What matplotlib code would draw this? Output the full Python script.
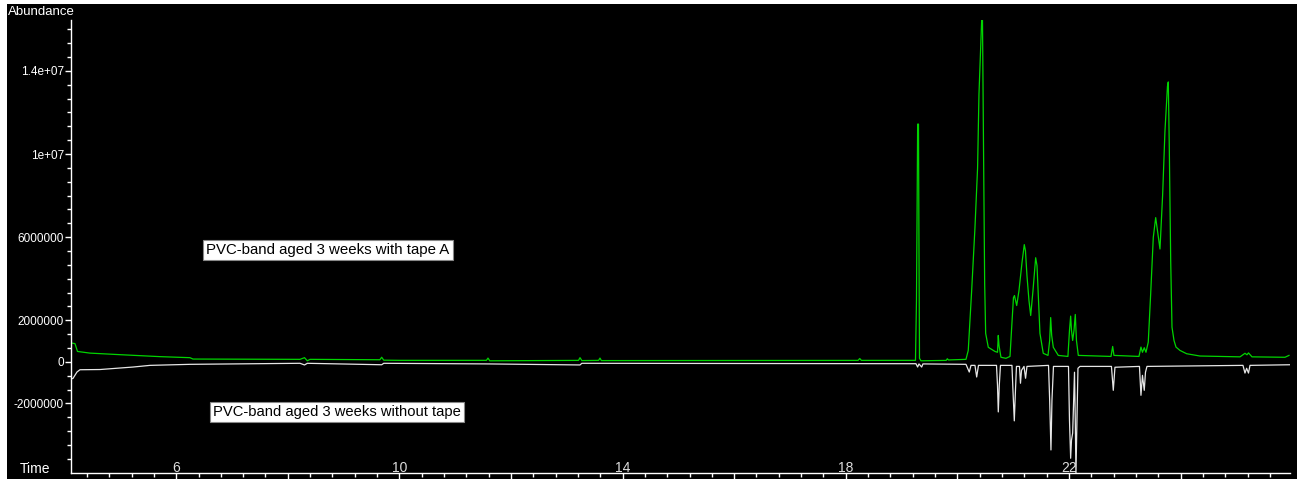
import numpy as np
import matplotlib
matplotlib.use('Agg')
import matplotlib.pyplot as plt
from matplotlib.patches import Rectangle
from matplotlib.ticker import MultipleLocator, FixedLocator, FixedFormatter

plt.rcParams['font.family'] = ['Liberation Sans', 'DejaVu Sans']

# PVC-band aged 3 weeks with tape A (ślad zielony, dodatni)
t_tape = [4.127, 4.186, 4.231, 4.455, 4.993, 5.710, 6.247, 6.301, 8.219, 8.30, 8.35, 8.40,
          9.65, 9.683, 9.72, 10.011, 11.56, 11.588, 11.62, 13.21, 13.237, 13.27, 13.57, 13.595,
          13.62, 18.22, 18.25, 18.28, 19.249, 19.267, 19.276, 19.288, 19.303, 19.312, 19.321,
          19.348, 19.80, 19.82, 19.84, 20.154, 20.195, 20.256, 20.315, 20.362, 20.387, 20.435,
          20.450, 20.468, 20.489, 20.507, 20.554, 20.674, 20.719, 20.733, 20.746, 20.781, 20.870,
          20.943, 20.973, 21.005, 21.023, 21.063, 21.104, 21.158, 21.199, 21.220, 21.247, 21.283,
          21.314, 21.355, 21.403, 21.427, 21.480, 21.539, 21.624, 21.654, 21.672, 21.690, 21.719,
          21.808, 21.981, 22.009, 22.030, 22.045, 22.066, 22.090, 22.113, 22.134, 22.167, 22.753,
          22.783, 22.806, 23.254, 23.290, 23.317, 23.349, 23.380, 23.421, 23.464, 23.511, 23.554,
          23.586, 23.631, 23.679, 23.720, 23.765, 23.780, 23.797, 23.823, 23.846, 23.882, 23.918,
          23.989, 24.109, 24.348, 25.065, 25.154, 25.190, 25.217, 25.280, 25.871, 25.943]
a_tape = [0.90e6, 0.88e6, 0.50e6, 0.42e6, 0.345e6, 0.25e6, 0.20e6, 0.134e6, 0.12e6, 0.20e6, 0.05e6, 0.12e6,
          0.10e6, 0.22e6, 0.08e6, 0.072e6, 0.072e6, 0.18e6, 0.05e6, 0.07e6, 0.20e6, 0.06e6, 0.07e6, 0.18e6,
          0.06e6, 0.07e6, 0.16e6, 0.07e6, 0.072e6, 2.95e6, 6.45e6, 11.44e6, 11.44e6, 5.35e6, 0.17e6,
          0.05e6, 0.07e6, 0.15e6, 0.09e6, 0.12e6, 0.55e6, 3.43e6, 6.45e6, 9.33e6, 12.88e6, 16.43e6,
          16.43e6, 10.48e6, 3.77e6, 1.37e6, 0.70e6, 0.50e6, 0.46e6, 1.27e6, 0.79e6, 0.22e6, 0.17e6,
          0.26e6, 1.65e6, 3.09e6, 3.19e6, 2.71e6, 3.43e6, 4.77e6, 5.64e6, 5.35e6, 4.15e6, 2.95e6,
          2.23e6, 3.43e6, 5.01e6, 4.63e6, 1.37e6, 0.41e6, 0.31e6, 1.03e6, 2.13e6, 1.27e6, 0.70e6,
          0.31e6, 0.26e6, 1.51e6, 2.20e6, 1.51e6, 1.03e6, 1.51e6, 2.28e6, 1.03e6, 0.31e6, 0.26e6,
          0.74e6, 0.31e6, 0.26e6, 0.71e6, 0.46e6, 0.68e6, 0.46e6, 0.95e6, 3.27e6, 5.99e6, 6.94e6,
          6.31e6, 5.43e6, 8.07e6, 11.10e6, 13.26e6, 13.47e6, 10.47e6, 4.87e6, 1.67e6, 1.03e6, 0.71e6,
          0.55e6, 0.39e6, 0.28e6, 0.24e6, 0.41e6, 0.34e6, 0.43e6, 0.24e6, 0.22e6, 0.31e6]

# PVC-band aged 3 weeks without tape (ślad biały, odwrócony)
t_blank = [4.127, 4.150, 4.222, 4.276, 4.634, 5.227, 5.530, 6.247, 8.219, 8.30, 8.35, 9.683, 9.72,
           11.588, 13.237, 13.27, 19.258, 19.288, 19.312, 19.360, 19.383, 20.154, 20.213, 20.244,
           20.315, 20.346, 20.378, 20.701, 20.719, 20.733, 20.751, 20.772, 20.978, 20.996, 21.020,
           21.041, 21.059, 21.113, 21.131, 21.149, 21.194, 21.222, 21.247, 21.633, 21.654, 21.677,
           21.695, 21.722, 21.991, 22.009, 22.030, 22.045, 22.066, 22.099, 22.113, 22.125, 22.143,
           22.161, 22.197, 22.761, 22.794, 22.824, 23.263, 23.290, 23.317, 23.349, 23.371, 23.398,
           25.118, 25.154, 25.184, 25.217, 25.244, 25.961]
a_blank = [-0.81e6, -0.80e6, -0.49e6, -0.38e6, -0.37e6, -0.25e6, -0.17e6, -0.12e6, -0.07e6, -0.15e6,
           -0.07e6, -0.14e6, -0.07e6, -0.10e6, -0.15e6, -0.07e6, -0.09e6, -0.25e6, -0.10e6, -0.25e6,
           -0.10e6, -0.12e6, -0.49e6, -0.17e6, -0.17e6, -0.73e6, -0.17e6, -0.17e6, -1.13e6, -2.41e6,
           -1.13e6, -0.17e6, -0.17e6, -1.37e6, -2.84e6, -1.37e6, -0.22e6, -0.22e6, -1.03e6, -0.41e6,
           -0.22e6, -0.79e6, -0.22e6, -0.17e6, -1.85e6, -4.24e6, -1.85e6, -0.22e6, -0.22e6, -2.81e6,
           -4.64e6, -3.77e6, -3.43e6, -0.50e6, -2.81e6, -5.40e6, -2.81e6, -0.31e6, -0.22e6, -0.22e6,
           -1.37e6, -0.26e6, -0.22e6, -1.61e6, -0.65e6, -1.37e6, -0.50e6, -0.22e6, -0.17e6, -0.54e6,
           -0.31e6, -0.54e6, -0.17e6, -0.14e6]

# Opisy osi
x_major = [6, 8, 10, 12, 14, 16, 18, 20, 22, 24]
x_labels = ['6', '', '10', '', '14', '', '18', '', '22', '']
y_major = [-2e6, 0, 2e6, 6e6, 1e7, 1.4e7]
y_labels = ['-2000000', '0', '2000000', '6000000', '1e+07', '1.4e+07']
label_tape = 'PVC-band aged 3 weeks with tape A'
label_blank = 'PVC-band aged 3 weeks without tape'

W, H = 1303, 483
fig = plt.figure(figsize=(W / 100, H / 100), dpi=100)
fig.patch.set_facecolor('white')
fig.patches.append(Rectangle((7 / W, 1 - 479 / H), 1290 / W, 475 / H,
                             transform=fig.transFigure, facecolor='black',
                             edgecolor='none', zorder=-10))

ax = fig.add_axes([71 / W, 1 - 472.6 / H, (1290 - 71) / W, (472.6 - 20) / H])
ax.set_facecolor('none')
ax.plot(t_tape, a_tape, color='#00d400', lw=0.9)
ax.plot(t_blank, a_blank, color='#e6e6e6', lw=0.9)
ax.set_xlim(4.115, 25.961)
ax.set_ylim(-5.33e6, 16.45e6)

for s in ['top', 'right']:
    ax.spines[s].set_visible(False)
for s in ['left', 'bottom']:
    ax.spines[s].set_color('white')
    ax.spines[s].set_linewidth(1.0)

ax.xaxis.set_major_locator(FixedLocator(x_major))
ax.xaxis.set_major_formatter(FixedFormatter(x_labels))
ax.xaxis.set_minor_locator(MultipleLocator(0.4))
ax.yaxis.set_major_locator(FixedLocator(y_major))
ax.yaxis.set_major_formatter(FixedFormatter(y_labels))
ax.yaxis.set_minor_locator(MultipleLocator(2e6 / 3))

ax.tick_params(axis='x', which='major', length=6, width=1, color='white',
               labelcolor='#dddddd', labelsize=10, pad=-14.5)
ax.tick_params(axis='x', which='minor', length=3, width=1, color='white')
ax.tick_params(axis='y', which='major', length=4, width=1, color='white',
               labelcolor='white', labelsize=8.5, pad=1)
ax.tick_params(axis='y', which='minor', length=3, width=1, color='white')

box = dict(facecolor='white', edgecolor='#888888', boxstyle='square,pad=0.2', lw=0.8)
ax.text(8.72, 5.4e6, label_tape, ha='center', va='center', fontsize=10.8,
        color='black', bbox=box)
ax.text(8.88, -2.40e6, label_blank, ha='center', va='center', fontsize=10.6,
        color='black', bbox=box)

fig.text(8 / W, 1 - 6 / H, 'Abundance', color='white', fontsize=9.5, va='top', ha='left')
fig.text(20 / W, 1 - 469 / H, 'Time', color='white', fontsize=10, va='center', ha='left')

fig.savefig('out.png', dpi=100, facecolor=fig.get_facecolor())
